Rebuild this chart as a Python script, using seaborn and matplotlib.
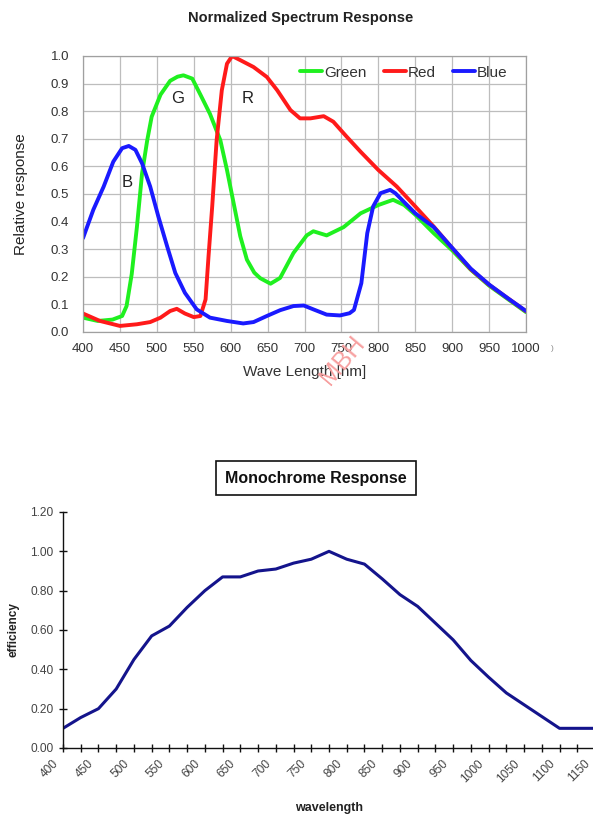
import matplotlib
matplotlib.use("Agg")
import matplotlib.pyplot as plt
import matplotlib.transforms as mtransforms
import seaborn as sns
import pandas as pd
from matplotlib.lines import Line2D

# ---------------- data: top chart ----------------
green_nm = [400, 420, 440, 453, 459, 466, 473, 480, 487, 493, 505, 518, 528, 536, 548, 559, 572, 586, 595,
            604, 613, 622, 632, 640, 654, 667, 685, 703, 712, 730, 753, 776, 800, 820, 835, 850, 875, 900,
            925, 950, 975, 1000]
green_val = [0.052, 0.040, 0.045, 0.058, 0.094, 0.21, 0.38, 0.575, 0.695, 0.78, 0.86, 0.91, 0.925, 0.93, 0.918,
             0.86, 0.79, 0.695, 0.587, 0.467, 0.347, 0.262, 0.215, 0.195, 0.175, 0.196, 0.286, 0.35, 0.365, 0.35,
             0.38, 0.43, 0.46, 0.479, 0.46, 0.425, 0.358, 0.296, 0.226, 0.168, 0.12, 0.072]

red_nm = [400, 423, 450, 473, 491, 505, 518, 527, 538, 550, 559, 566, 570, 575, 581, 588, 595, 602,
          613, 631, 649, 663, 681, 694, 708, 726, 739, 757, 776, 800, 825, 850, 875, 900, 925, 950,
          975, 1000]
red_val = [0.067, 0.040, 0.022, 0.028, 0.036, 0.052, 0.076, 0.084, 0.067, 0.054, 0.058, 0.118, 0.274,
           0.455, 0.695, 0.876, 0.972, 1.0, 0.985, 0.96, 0.924, 0.876, 0.804, 0.774, 0.774, 0.782,
           0.762, 0.708, 0.653, 0.587, 0.527, 0.455, 0.382, 0.304, 0.228, 0.171, 0.123, 0.075]

blue_nm = [400, 414, 428, 441, 453, 462, 471, 480, 491, 502, 514, 525, 538, 554, 572, 595, 617, 631,
           649, 667, 685, 699, 712, 730, 748, 761, 767, 777, 785, 793, 803, 816, 823, 850, 875, 900,
           925, 950, 975, 1000]
blue_val = [0.34, 0.443, 0.527, 0.617, 0.666, 0.674, 0.66, 0.611, 0.527, 0.419, 0.31, 0.214, 0.142,
            0.082, 0.052, 0.040, 0.031, 0.036, 0.058, 0.079, 0.094, 0.096, 0.082, 0.063, 0.060, 0.068,
            0.08, 0.177, 0.358, 0.455, 0.503, 0.515, 0.503, 0.43, 0.38, 0.305, 0.23, 0.172, 0.123, 0.076]

series_names = ["Green", "Red", "Blue"]
series_colors = ["#1ff01f", "#ff1a1a", "#1a1aff"]

# ---------------- data: bottom chart ----------------
mono_nm = [400, 425, 450, 475, 500, 525, 550, 575, 600, 625, 650, 675, 700, 725, 750, 775, 800, 825,
           850, 875, 900, 925, 950, 975, 1000, 1025, 1050, 1075, 1100, 1125, 1150]
mono_eff = [0.10, 0.155, 0.20, 0.30, 0.45, 0.57, 0.62, 0.715, 0.80, 0.87, 0.87, 0.90, 0.91, 0.94,
            0.96, 1.00, 0.96, 0.935, 0.86, 0.78, 0.72, 0.635, 0.55, 0.445, 0.36, 0.28, 0.22, 0.16,
            0.10, 0.10, 0.10]

top_yticks = [0.0, 0.1, 0.2, 0.3, 0.4, 0.5, 0.6, 0.7, 0.8, 0.9, 1.0]
top_xticks = list(range(400, 1001, 50))
bot_yticks = [0.0, 0.2, 0.4, 0.6, 0.8, 1.0, 1.2]
bot_xticks = list(range(400, 1151, 25))

# ---------------- figure ----------------
sns.set_style("white")
plt.rcParams["font.family"] = ["Liberation Sans", "DejaVu Sans"]

W, H = 593, 816
fig = plt.figure(figsize=(W / 100, H / 100), dpi=100)

def box(x0, y0, x1, y1):
    return [x0 / W, 1 - y1 / H, (x1 - x0) / W, (y1 - y0) / H]

# ---- top axes ----
ax1 = fig.add_axes(box(83, 56, 526, 332))
df_top = pd.concat([
    pd.DataFrame({"nm": green_nm, "val": green_val, "ch": "Green"}),
    pd.DataFrame({"nm": red_nm, "val": red_val, "ch": "Red"}),
    pd.DataFrame({"nm": blue_nm, "val": blue_val, "ch": "Blue"}),
])
sns.lineplot(data=df_top, x="nm", y="val", hue="ch", hue_order=series_names,
             palette=series_colors, linewidth=2.8, ax=ax1, legend=False, sort=False)
for ln in ax1.get_lines():
    ln.set_solid_joinstyle("round")
    ln.set_solid_capstyle("round")
ax1.set_xlim(400, 1000)
ax1.set_ylim(0, 1.0)
ax1.set_xticks(top_xticks)
ax1.set_yticks(top_yticks)
ax1.set_yticklabels([f"{v:.1f}" for v in top_yticks])
ax1.grid(True, color="#bdbdbd", linewidth=0.9)
ax1.set_axisbelow(True)
for s in ax1.spines.values():
    s.set_color("#a0a0a0")
    s.set_linewidth(0.9)
ax1.tick_params(axis="both", length=0, labelsize=9.5, colors="#333333")
ax1.tick_params(axis="x", pad=8)
ax1.tick_params(axis="y", pad=10)
ax1.set_xlabel("Wave Length [nm]", fontsize=11, color="#333333", labelpad=7)
ax1.set_ylabel("Relative response", fontsize=11, color="#222222", labelpad=16)
handles = [Line2D([0], [0], color=c, lw=2.8) for c in series_colors]
ax1.legend(handles, series_names, loc="upper right", ncol=3, frameon=False, fontsize=11,
           handlelength=1.45, handletextpad=0.15, columnspacing=1.1,
           bbox_to_anchor=(0.99, 1.015), labelcolor="#333333")
ax1.text(460, 0.54, "B", fontsize=12, ha="center", va="center", color="#222222")
ax1.text(528, 0.845, "G", fontsize=12, ha="center", va="center", color="#222222")
ax1.text(623, 0.845, "R", fontsize=12, ha="center", va="center", color="#222222")

fig.text(301 / W, 1 - 18 / H, "Normalized Spectrum Response", fontsize=10.5, fontweight="bold",
         ha="center", va="center", color="#222222")
fig.text(552 / W, 1 - 349 / H, ")", fontsize=6, ha="center", va="center", color="#888888")
fig.text(342 / W, 1 - 360 / H, "MBH", fontsize=18, rotation=50, ha="center", va="center",
         color="#f7a0a0", fontweight="light")

# ---- bottom axes ----
ax2 = fig.add_axes(box(63, 512, 595, 748))
df_bot = pd.DataFrame({"wavelength": mono_nm, "efficiency": mono_eff})
sns.lineplot(data=df_bot, x="wavelength", y="efficiency", color="#14148c", linewidth=2.2, ax=ax2)
ax2.set_xlim(400, 1150)
ax2.set_ylim(0, 1.2)
ax2.set_yticks(bot_yticks)
ax2.set_yticklabels([f"{v:.2f}" for v in bot_yticks])
ax2.set_xticks(bot_xticks)
ax2.set_xticklabels([str(v) if v % 50 == 0 else "" for v in bot_xticks], rotation=45,
                    ha="right", va="top", rotation_mode="anchor")
ax2.spines["top"].set_visible(False)
ax2.spines["right"].set_visible(False)
for s in ("left", "bottom"):
    ax2.spines[s].set_color("#111111")
    ax2.spines[s].set_linewidth(1.0)
ax2.tick_params(axis="both", direction="inout", length=6, width=1, color="#111111",
                labelsize=8.6, labelcolor="#444444", bottom=True, left=True)
ax2.tick_params(axis="x", pad=4)
ax2.tick_params(axis="y", pad=4)
ax2.grid(False)
ax2.set_xlabel("wavelength", fontsize=9, fontweight="bold", color="#222222", labelpad=12)
ax2.set_ylabel("efficiency", fontsize=8.5, fontweight="bold", color="#222222", labelpad=8)

fig.text(316 / W, 1 - 478 / H, "Monochrome Response", fontsize=11.5, fontweight="bold",
         ha="center", va="center", color="#111111",
         bbox=dict(boxstyle="square,pad=0.6", facecolor="white", edgecolor="#111111", linewidth=1.2))

# shift rotated x tick labels slightly left (after all tick_params calls)
shift = mtransforms.ScaledTranslation(-11 / 100, 0, fig.dpi_scale_trans)
for tk in ax2.xaxis.get_major_ticks():
    tk.label1.set_transform(tk.label1.get_transform() + shift)

fig.savefig("out.png", dpi=100)
